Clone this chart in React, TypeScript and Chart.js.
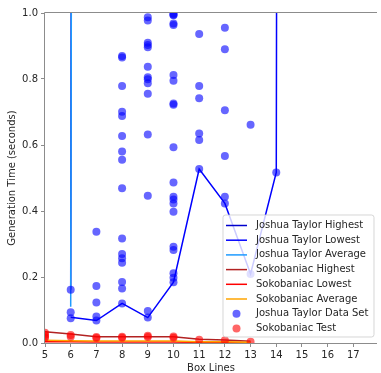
import React, { useEffect, useRef } from 'react';
import { Chart, registerables } from 'chart.js';
Chart.register(...registerables);

// Axis ticks
const xTicks = [5, 6, 7, 8, 9, 10, 11, 12, 13, 14, 15, 16, 17];
const yTicks = [0, 0.2, 0.4, 0.6, 0.8, 1.0];

// Joshua Taylor lines (values beyond 1.0 run off the top of the plot)
const jtLineX = [6, 7, 8, 9, 10, 11, 12, 13, 14, 15];
const jtHighest = [0.161, 48, 55, 60, 70, 80, 95, 110, 130, 150];
const jtLowest = [0.078, 0.068, 0.12, 0.077, 0.184, 0.527, 0.423, 0.209, 0.517, 45];
const jtAverage = [0.11, 38, 42, 45, 50, 58, 64, 70, 80, 90];

// Sokobaniac lines
const skLineX = [5, 6, 7, 8, 9, 10, 11, 12, 13];
const skHighest = [0.034, 0.027, 0.019, 0.019, 0.019, 0.019, 0.011, 0.009, 0.005];
const skLowest = [0.004, 0.004, 0.003, 0.003, 0.003, 0.003, 0.002, 0.002, 0.001];
const skAverage = [0.008, 0.007, 0.006, 0.006, 0.006, 0.006, 0.004, 0.004, 0.002];

// Joshua Taylor data set (scatter)
const jtDataX = [
  6, 6, 6,
  7, 7, 7, 7, 7,
  8, 8, 8, 8, 8, 8, 8, 8, 8, 8, 8, 8, 8, 8, 8, 8,
  9, 9, 9, 9, 9, 9, 9, 9, 9, 9, 9, 9, 9, 9,
  10, 10, 10, 10, 10, 10, 10, 10, 10, 10, 10, 10, 10, 10, 10, 10, 10, 10, 10, 10,
  11, 11, 11, 11, 11, 11,
  12, 12, 12, 12, 12, 12,
  13, 13,
  14,
];
const jtDataY = [
  0.161, 0.093, 0.075,
  0.337, 0.173, 0.123, 0.08, 0.068,
  0.87, 0.865, 0.779, 0.701, 0.688, 0.627, 0.58, 0.555, 0.469, 0.317, 0.27, 0.257, 0.243, 0.185, 0.165, 0.12,
  0.987, 0.977, 0.91, 0.903, 0.896, 0.837, 0.805, 0.799, 0.787, 0.755, 0.632, 0.446, 0.097, 0.077,
  0.998, 0.995, 0.993, 0.968, 0.964, 0.812, 0.795, 0.726, 0.722, 0.593, 0.486, 0.443, 0.435, 0.423, 0.398, 0.292, 0.282, 0.211, 0.198, 0.184,
  0.936, 0.779, 0.742, 0.635, 0.615, 0.527,
  0.955, 0.89, 0.705, 0.567, 0.443, 0.423,
  0.661, 0.209,
  0.517,
];

// Sokobaniac test (scatter)
const skTestX = [5, 5, 5, 5, 6, 6, 7, 7, 8, 8, 9, 9, 10, 10, 11, 12, 13];
const skTestY = [0.031, 0.025, 0.02, 0.016, 0.024, 0.019, 0.018, 0.015, 0.019, 0.016, 0.022, 0.018, 0.02, 0.016, 0.01, 0.008, 0.004];

const FONT = "'DejaVu Sans', sans-serif";
const TEXT = '#262626';
const SPINE = '#8c8c8c';

export default function App() {
  const ref = useRef<HTMLCanvasElement>(null);

  useEffect(() => {
    document.body.style.margin = '0';
    const canvas = ref.current!;
    const pairs = (xs: number[], ys: number[]) => xs.map((x, i) => ({ x, y: ys[i] }));
    const N = 8;
    const lineDs = (label: string, xs: number[], ys: number[], color: string, i: number) => ({
      type: 'line' as const,
      label,
      data: pairs(xs, ys),
      borderColor: color,
      backgroundColor: color,
      borderWidth: 1.5,
      pointRadius: 0,
      pointHoverRadius: 0,
      showLine: true,
      fill: false,
      tension: 0,
      order: N - i,
      clip: 0,
    });
    const scatterDs = (label: string, xs: number[], ys: number[], color: string, i: number) => ({
      type: 'scatter' as const,
      label,
      data: pairs(xs, ys),
      borderColor: color,
      backgroundColor: color,
      borderWidth: 0,
      pointRadius: 4,
      pointHoverRadius: 4,
      showLine: false,
      order: N - i,
      clip: 0,
    });

    const spines = {
      id: 'spines',
      afterDatasetsDraw(chart: any) {
        const { ctx } = chart;
        const { left, top, right, bottom } = chart.chartArea;
        ctx.save();
        ctx.strokeStyle = SPINE;
        ctx.lineWidth = 1;
        ctx.beginPath();
        ctx.moveTo(left - 0.5, bottom + 0.5);
        ctx.lineTo(left - 0.5, top - 0.5);
        ctx.lineTo(right, top - 0.5);
        ctx.moveTo(left - 0.5, bottom + 0.5);
        ctx.lineTo(right, bottom + 0.5);
        ctx.stroke();
        ctx.restore();
      },
    };

    const legend = {
      id: 'boxLegend',
      afterDraw(chart: any) {
        const { ctx } = chart;
        const ca = chart.chartArea;
        const x0 = ca.right - 154;
        const y0 = ca.bottom - 128;
        const w = 151;
        const h = 122;
        ctx.save();
        ctx.beginPath();
        const r = 2.5;
        ctx.moveTo(x0 + r, y0);
        ctx.arcTo(x0 + w, y0, x0 + w, y0 + h, r);
        ctx.arcTo(x0 + w, y0 + h, x0, y0 + h, r);
        ctx.arcTo(x0, y0 + h, x0, y0, r);
        ctx.arcTo(x0, y0, x0 + w, y0, r);
        ctx.closePath();
        ctx.fillStyle = 'rgba(255,255,255,0.8)';
        ctx.fill();
        ctx.strokeStyle = 'rgba(204,204,204,0.8)';
        ctx.lineWidth = 1;
        ctx.stroke();
        ctx.font = `10px ${FONT}`;
        ctx.textBaseline = 'middle';
        ctx.textAlign = 'left';
        chart.data.datasets.forEach((ds: any, i: number) => {
          const y = y0 + 10.5 + i * 14.7;
          if (ds.type === 'line') {
            ctx.strokeStyle = ds.borderColor;
            ctx.lineWidth = 1.5;
            ctx.beginPath();
            ctx.moveTo(x0 + 3, y);
            ctx.lineTo(x0 + 24, y);
            ctx.stroke();
          } else {
            ctx.fillStyle = ds.backgroundColor;
            ctx.beginPath();
            ctx.arc(x0 + 13.5, y, 4, 0, Math.PI * 2);
            ctx.fill();
          }
          ctx.fillStyle = TEXT;
          ctx.fillText(ds.label, x0 + 33, y);
        });
        ctx.restore();
      },
    };

    const chart = new Chart(canvas, {
      type: 'scatter',
      data: {
        datasets: [
          lineDs('Joshua Taylor Highest', jtLineX, jtHighest, '#0000cd', 0),
          lineDs('Joshua Taylor Lowest', jtLineX, jtLowest, '#0000ff', 1),
          lineDs('Joshua Taylor Average', jtLineX, jtAverage, '#1e9bff', 2),
          lineDs('Sokobaniac Highest', skLineX, skHighest, '#b22222', 3),
          lineDs('Sokobaniac Lowest', skLineX, skLowest, '#ff0000', 4),
          lineDs('Sokobaniac Average', skLineX, skAverage, '#ffa500', 5),
          scatterDs('Joshua Taylor Data Set', jtDataX, jtDataY, 'rgba(0,0,255,0.6)', 6),
          scatterDs('Sokobaniac Test', skTestX, skTestY, 'rgba(255,0,0,0.6)', 7),
        ] as any,
      },
      options: {
        responsive: false,
        animation: false,
        events: [],
        layout: { padding: { top: 13, right: 0, left: 0, bottom: 0 } },
        plugins: { legend: { display: false }, tooltip: { enabled: false } },
        scales: {
          x: {
            type: 'linear',
            min: 5,
            max: 17.92,
            grid: { display: true, drawOnChartArea: false, drawTicks: true, tickLength: 4, color: SPINE },
            border: { display: false },
            ticks: {
              padding: 2,
              color: TEXT,
              font: { family: FONT, size: 10 },
              callback: (v: any) => String(v),
              maxRotation: 0,
              autoSkip: false,
            },
            title: {
              display: true,
              text: 'Box Lines',
              color: TEXT,
              font: { family: FONT, size: 10 },
              padding: { top: 0, bottom: -1 },
            },
            afterBuildTicks: (s: any) => {
              s.ticks = xTicks.map((v) => ({ value: v }));
            },
            afterFit: (s: any) => {
              s.height = 30;
              s.paddingLeft = 0;
              s.paddingRight = 0;
            },
          },
          y: {
            type: 'linear',
            min: 0,
            max: 1,
            grid: { display: true, drawOnChartArea: false, drawTicks: true, tickLength: 4, color: SPINE },
            border: { display: false },
            ticks: {
              padding: 3,
              color: TEXT,
              font: { family: FONT, size: 10 },
              callback: (v: any) => Number(v).toFixed(1),
              autoSkip: false,
            },
            title: {
              display: true,
              text: 'Generation Time (seconds)',
              color: TEXT,
              font: { family: FONT, size: 10 },
              padding: { top: 6, bottom: 0 },
            },
            afterBuildTicks: (s: any) => {
              s.ticks = yTicks.map((v) => ({ value: v }));
            },
            afterFit: (s: any) => {
              s.width = 45;
              s.paddingTop = 0;
              s.paddingBottom = 0;
            },
          },
        },
      },
      plugins: [spines, legend],
    } as any);

    return () => chart.destroy();
  }, []);

  return (
    <div style={{ width: 381, height: 373 }}>
      <canvas ref={ref} width={381} height={373} style={{ display: 'block', width: 381, height: 373 }} />
    </div>
  );
}
